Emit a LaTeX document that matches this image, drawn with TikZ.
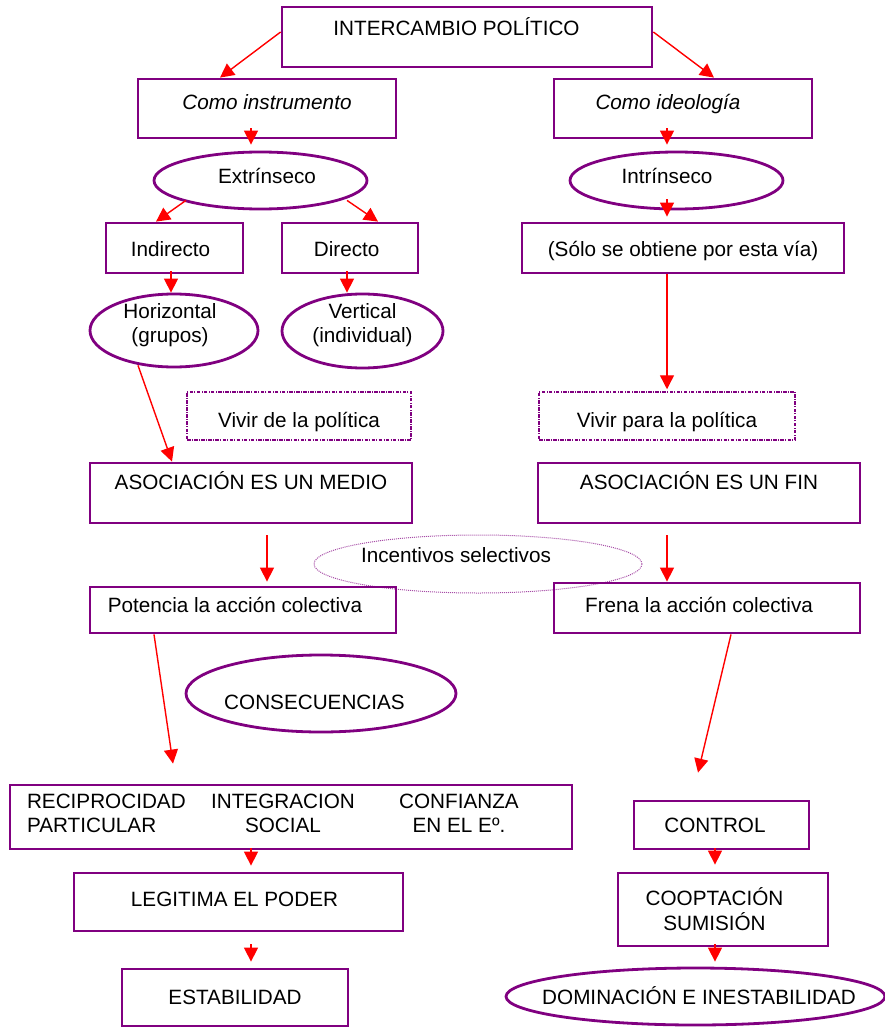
\documentclass[tikz,border=0pt]{standalone}
\usepackage{fontspec}
\setmainfont{Liberation Sans}
\usetikzlibrary{shapes.geometric,arrows.meta}
\definecolor{morado}{RGB}{128,0,128}
\tikzset{
  caja/.style={draw=morado, line width=2.8pt, rectangle, inner sep=0pt},
  ovalo/.style={draw=morado, line width=2.8pt, ellipse, inner sep=0pt},
  cajapunt/.style={draw=morado, line width=1.5pt, dash pattern=on 3.5pt off 1.3pt on 1pt off 1.3pt, rectangle, inner sep=0pt},
  ovalopunt/.style={draw=morado!70, line width=1pt, dash pattern=on 1pt off 1pt, ellipse, inner sep=0pt},
  flecha/.style={red, line width=1.4pt, -{Triangle[length=14pt,width=14pt]}}
}
\begin{document}
\begin{tikzpicture}[x=1pt, y=-1pt, font=\fontsize{20.7}{24}\selectfont]
  \useasboundingbox (0,0) rectangle (885,1027);

  % Nivel superior
  \node[caja, minimum width=370pt, minimum height=60pt, text height=0pt, text depth=2.2pt] (inter) at (467,37) {\hspace*{-21pt}INTERCAMBIO POLÍTICO};
  \node[caja, minimum width=258pt, minimum height=59pt, text height=1.8pt, text depth=0pt] (instr) at (267,108.5) {\itshape Como instrumento};
  \node[caja, minimum width=258pt, minimum height=59pt, text height=1.8pt, text depth=0pt] (ideo) at (683,108.5) {\hspace*{-30pt}\itshape Como ideología};

  % Extrínseco / Intrínseco
  \node[ovalo, minimum width=213pt, minimum height=57pt, text height=5.8pt, text depth=0pt] (extr) at (260.5,180.5) {\hspace*{13pt}Extrínseco};
  \node[ovalo, minimum width=213pt, minimum height=57pt, text height=5.8pt, text depth=0pt] (intr) at (676.5,180.5) {\hspace*{-19pt}Intrínseco};

  \node[caja, minimum width=137pt, minimum height=50pt, text height=17.8pt, text depth=0pt] (indir) at (174.5,248) {\hspace*{-8pt}Indirecto};
  \node[caja, minimum width=136pt, minimum height=50pt, text height=17.8pt, text depth=0pt] (dir) at (350,248) {\hspace*{-6.6pt}Directo};
  \node[caja, minimum width=322pt, minimum height=50pt, text height=17.8pt, text depth=0pt] (solo) at (683,248) {(Sólo se obtiene por esta vía)};

  \node[ovalo, minimum width=168pt, minimum height=73pt, text height=24.8pt, text depth=0pt] (horiz) at (174,330.5) {\hspace*{-8pt}\begin{tabular}[b]{@{}c@{}}Horizontal\\(grupos)\end{tabular}};
  \node[ovalo, minimum width=161pt, minimum height=74pt, text height=23.8pt, text depth=0pt] (vert) at (362.5,331) {\begin{tabular}[b]{@{}c@{}}Vertical\\(individual)\end{tabular}};

  % Vivir de / para la política
  \node[cajapunt, minimum width=224pt, minimum height=48pt, text height=23.8pt, text depth=0pt] (vivde) at (299,416) {Vivir de la política};
  \node[cajapunt, minimum width=256pt, minimum height=48pt, text height=23.8pt, text depth=0pt] (vivpara) at (667,416) {Vivir para la política};

  \node[caja, minimum width=322pt, minimum height=60pt, text height=0pt, text depth=6.2pt] (medio) at (251,493) {ASOCIACIÓN ES UN MEDIO};
  \node[caja, minimum width=322pt, minimum height=60pt, text height=0pt, text depth=6.2pt] (fin) at (699,493) {ASOCIACIÓN ES UN FIN};

  \node[ovalopunt, minimum width=328pt, minimum height=58pt, text height=0pt, text depth=2.2pt] (incent) at (478,564) {\hspace*{-44pt}Incentivos selectivos};

  \node[caja, minimum width=306pt, minimum height=46pt, text height=5.8pt, text depth=0pt] (poten) at (243,610) {\hspace*{-16pt}Potencia la acción colectiva};
  \node[caja, minimum width=306pt, minimum height=50pt, text height=9.8pt, text depth=0pt] (frena) at (707,608) {\hspace*{-16pt}Frena la acción colectiva};

  % Consecuencias
  \node[ovalo, minimum width=270pt, minimum height=77pt, text height=32.8pt, text depth=0pt] (consec) at (321,693.5) {\hspace*{-13pt}CONSECUENCIAS};

  \node[caja, minimum width=562pt, minimum height=64pt, text height=30.8pt, text depth=0pt] (recip) at (291,817) {\hspace*{7pt}\begin{tabular}[b]{@{}l@{}}
    \makebox[183pt][l]{RECIPROCIDAD}\makebox[146pt]{INTEGRACION}\makebox[206pt]{CONFIANZA}\\
    \makebox[183pt][l]{PARTICULAR}\makebox[146pt]{SOCIAL}\makebox[206pt]{EN EL Eº.}
  \end{tabular}};
  \node[caja, minimum width=329pt, minimum height=58pt, text height=9.8pt, text depth=0pt] (legit) at (238.5,902) {\hspace*{-8pt}LEGITIMA EL PODER};
  \node[caja, minimum width=226pt, minimum height=57pt, text height=13.8pt, text depth=0pt] (estab) at (235,997.5) {ESTABILIDAD};

  \node[caja, minimum width=175pt, minimum height=48pt, text height=14.8pt, text depth=0pt] (control) at (721.5,825) {\hspace*{-13pt}CONTROL};
  \node[caja, minimum width=210pt, minimum height=73pt, text height=42.3pt, text depth=0pt] (coopt) at (723,909.5) {\hspace*{-17pt}\begin{tabular}[b]{@{}c@{}}COOPTACIÓN\\SUMISIÓN\end{tabular}};
  \node[ovalo, inner xsep=-40pt, minimum width=379pt, minimum height=57pt, text height=15.8pt, text depth=0pt] (domin) at (695.5,996.5) {\hspace*{7pt}DOMINACIÓN E INESTABILIDAD};

  % Flechas
  \draw[flecha] ([yshift=5pt]inter.west) -- ([xshift=-47pt]instr.north);
  \draw[flecha] ([yshift=5pt]inter.east) -- ([xshift=31pt]ideo.north);
  \draw[flecha] ([xshift=-16pt,yshift=11pt]instr.south) -- ([xshift=-9.5pt,yshift=6pt]extr.north);
  \draw[flecha] ([xshift=-16pt,yshift=11pt]ideo.south) -- ([xshift=-9.5pt,yshift=6pt]intr.north);
  \draw[flecha] ([xshift=-9.5pt,yshift=11pt]intr.south) -- ([xshift=-16pt,yshift=5pt]solo.north);
  \draw[flecha] ([xshift=-74.5pt,yshift=10pt]extr.south) -- ([xshift=-18.5pt]indir.north);
  \draw[flecha] ([xshift=86.5pt,yshift=10pt]extr.south) -- ([xshift=28pt]dir.north);
  \draw[flecha] ([xshift=-3.5pt,yshift=3pt]indir.south) -- ([xshift=-3pt]horiz.north);
  \draw[flecha] ([xshift=-3pt,yshift=3pt]dir.south) -- ([xshift=-15.5pt]vert.north);
  \draw[flecha] ([xshift=-16pt]solo.south) -- ([yshift=2pt]vivpara.north);
  \draw[flecha] ([xshift=-36pt,yshift=3pt]horiz.south) -- ([xshift=-79pt]medio.north);
  \draw[flecha] ([xshift=16pt,yshift=-11pt]medio.south) -- ([xshift=24pt,yshift=4pt]poten.north);
  \draw[flecha] ([xshift=-32pt,yshift=-11pt]fin.south) -- ([xshift=-40pt]frena.north);
  \draw[flecha] ([xshift=-89pt]poten.south) -- ([xshift=-118pt,yshift=20pt]recip.north);
  \draw[flecha] ([xshift=24pt]frena.south) -- ([xshift=-23.5pt,yshift=27pt]control.north);
  \draw[flecha] ([xshift=-40pt,yshift=2pt]recip.south) -- ([xshift=12.5pt,yshift=6pt]legit.north);
  \draw[flecha] ([xshift=12.5pt,yshift=-12pt]legit.south) -- ([xshift=16pt,yshift=6pt]estab.north);
  \draw[flecha] ([xshift=-6.5pt,yshift=2pt]control.south) -- ([xshift=-8pt,yshift=7pt]coopt.north);
  \draw[flecha] ([xshift=-8pt,yshift=3pt]coopt.south) -- ([xshift=19.5pt,yshift=5pt]domin.north);

\end{tikzpicture}
\end{document}
